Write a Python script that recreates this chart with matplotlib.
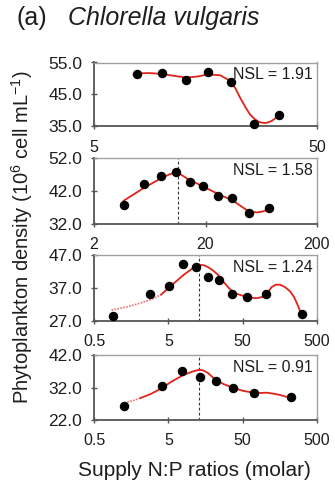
"""
Chlorella vulgaris: phytoplankton density against supply N:P ratio,
four stacked panels (one per NSL level) with the fitted curve drawn in red.
"""
import matplotlib
matplotlib.use("Agg")
import matplotlib.pyplot as plt
from matplotlib.ticker import NullLocator

plt.rcParams["font.family"] = ["Liberation Sans", "DejaVu Sans"]

# ---- data ------------------------------------------------------------------
nsl_labels = ["NSL = 1.91", "NSL = 1.58", "NSL = 1.24", "NSL = 0.91"]

# observed points
obs_x1 = [7.8, 10.1, 12.9, 16.2, 20.6, 26.0, 33.8]
obs_y1 = [51.4, 51.8, 49.5, 52.0, 49.0, 35.8, 38.6]

obs_x2 = [3.7, 5.6, 7.9, 10.8, 14.5, 18.9, 25.7, 34.8, 49.4, 74.6]
obs_y2 = [37.9, 44.2, 46.6, 47.9, 44.7, 43.7, 40.6, 40.1, 35.5, 37.0]

obs_x3 = [0.91, 2.8, 5.1, 7.8, 11.8, 17.2, 24.0, 36.3, 56.6, 103, 314]
obs_y3 = [28.5, 35.2, 37.6, 44.2, 43.5, 40.4, 39.4, 35.2, 34.4, 35.2, 29.1]

obs_x4 = [1.28, 4.1, 7.7, 13.4, 21.7, 36.7, 71.8, 224]
obs_y4 = [26.3, 32.5, 37.1, 35.3, 34.1, 31.9, 30.2, 29.0]

# fitted curves (traced)
fit_x1 = [7.8, 8.9, 10.1, 11.5, 12.9, 14.5, 16.2, 18.4, 20.0, 21.5, 22.6, 24.0,
          25.0, 26.2, 27.2, 28.2, 29.2, 30.3, 31.4, 32.6, 33.8]
fit_y1 = [51.6, 51.7, 51.4, 50.8, 50.3, 50.6, 51.3, 51.0, 49.6, 47.0, 44.0, 40.8,
          38.8, 37.4, 36.6, 36.2, 36.1, 36.3, 36.8, 37.6, 38.5]

fit_x2 = [3.67, 5.53, 7.93, 9.6, 10.8, 12.0, 13.6, 17.9, 25.2, 35.5, 42.0, 46.9,
          52.0, 57.6, 64.0, 70.8, 75.7]
fit_y2 = [39.1, 42.9, 45.9, 47.2, 47.8, 47.1, 45.9, 43.9, 41.4, 39.1, 37.4, 36.3,
          35.8, 35.6, 35.8, 36.3, 36.8]

# panel 3/4 curves start with a faint dotted extrapolation
dot_x3 = [0.86, 1.4, 2.08, 3.0, 4.0]
dot_y3 = [30.3, 31.3, 32.4, 33.6, 35.0]
fit_x3 = [4.0, 5.27, 7.95, 10.5, 12.9, 15.0, 17.2, 20.0, 23.5, 28.0, 33.8, 41.0,
          51, 63, 77, 92, 105, 123, 140, 159, 185, 217, 245, 267, 290, 311]
fit_y3 = [35.0, 37.4, 40.9, 42.9, 44.0, 43.9, 43.3, 42.3, 40.9, 38.7, 36.6, 35.3,
          34.6, 34.1, 33.9, 34.3, 35.2, 37.3, 38.0, 38.0, 37.3, 36.0, 34.3, 32.5,
          30.5, 29.1]

dot_x4 = [1.28, 1.7, 2.08]
dot_y4 = [27.3, 28.0, 28.7]
fit_x4 = [2.08, 2.9, 4.07, 5.6, 7.9, 10.5, 12.8, 14.1, 15.5, 17.2, 21.7, 28.0,
          37.4, 50, 69.5, 85, 105, 130, 159, 190, 224]
fit_y4 = [28.7, 30.0, 31.8, 33.9, 35.8, 36.9, 37.4, 37.4, 37.0, 36.4, 34.3, 33.0,
          31.9, 31.0, 30.4, 30.3, 30.4, 30.1, 29.7, 29.2, 28.7]

# optimum (dashed line) positions, None where there is no line
peak_x = [None, 11.3, 13.0, 13.0]

x_limits = [(5, 50), (2, 200), (0.5, 500), (0.5, 500)]
x_ticks = [[5, 50], [2, 20, 200], [0.5, 5, 50, 500], [0.5, 5, 50, 500]]
y_ticks = [[35.0, 45.0, 55.0], [32.0, 42.0, 52.0], [27.0, 37.0, 47.0], [22.0, 32.0, 42.0]]

# ---- figure ----------------------------------------------------------------
W, H = 335, 486
fig = plt.figure(figsize=(W / 100, H / 100), dpi=100)

# (top, bottom) of each axes box in pixels
boxes = [(62.5, 126.5), (158.3, 224.3), (255, 321), (355, 420)]
left_px, right_px = 94, 317

red = "#e2231a"
dark = "#555555"
light = "#a0a0a0"
txt = "#1e1e1e"

obs = [(obs_x1, obs_y1), (obs_x2, obs_y2), (obs_x3, obs_y3), (obs_x4, obs_y4)]
fits = [(fit_x1, fit_y1), (fit_x2, fit_y2), (fit_x3, fit_y3), (fit_x4, fit_y4)]
dots = [None, None, (dot_x3, dot_y3), (dot_x4, dot_y4)]

for i, (top, bot) in enumerate(boxes):
    ax = fig.add_axes([left_px / W, 1 - bot / H, (right_px - left_px) / W, (bot - top) / H])
    ax.set_xscale("log")
    ax.set_xlim(*x_limits[i])
    ax.set_ylim(y_ticks[i][0], y_ticks[i][-1])

    if peak_x[i] is not None:
        ax.axvline(peak_x[i], color="#333333", lw=0.8, ls=(0, (2.5, 2)), zorder=1)

    if dots[i] is not None:
        ax.plot(*dots[i], color="#ee7070", lw=1.2, ls=(0, (1, 0.8)), zorder=2)
    ax.plot(*fits[i], color=red, lw=1.3, zorder=2, solid_capstyle="round")
    ax.plot(*obs[i], "o", color="black", ms=5.8, zorder=3, clip_on=False)

    ax.set_xticks(x_ticks[i])
    ax.set_xticklabels([f"{t:g}" for t in x_ticks[i]])
    ax.xaxis.set_minor_locator(NullLocator())
    ax.set_yticks(y_ticks[i])
    ax.set_yticklabels([f"{t:.1f}" for t in y_ticks[i]])
    ax.tick_params(axis="both", direction="inout", length=5, width=1.0,
                   color=dark, labelcolor=txt)
    ax.tick_params(axis="y", labelsize=12.5, pad=6)
    ax.tick_params(axis="x", labelsize=11.5, pad=7)

    for side in ("left", "bottom"):
        ax.spines[side].set_color(dark)
        ax.spines[side].set_linewidth(1.3)
    for side in ("top", "right"):
        ax.spines[side].set_color(light)
        ax.spines[side].set_linewidth(1.0)

    ax.text(0.982, 0.81, nsl_labels[i], transform=ax.transAxes,
            ha="right", va="center", fontsize=11.5, color=txt)

fig.text(17 / W, 1 - 18 / H, "(a)", fontsize=18, ha="left", va="center", color=txt)
fig.text(68 / W, 1 - 18 / H, "Chlorella vulgaris", fontsize=18, style="italic",
         ha="left", va="center", color=txt)
fig.text(22 / W, 1 - 237 / H,
         r"Phytoplankton density (10$\mathregular{^{6}}$ cell mL$\mathregular{^{-1}}$)",
         rotation=90, fontsize=14.5, ha="center", va="center", color=txt)
fig.text(194 / W, 1 - 470 / H, "Supply N:P ratios (molar)", fontsize=15,
         ha="center", va="center", color=txt)

fig.savefig("out.png", dpi=100)
